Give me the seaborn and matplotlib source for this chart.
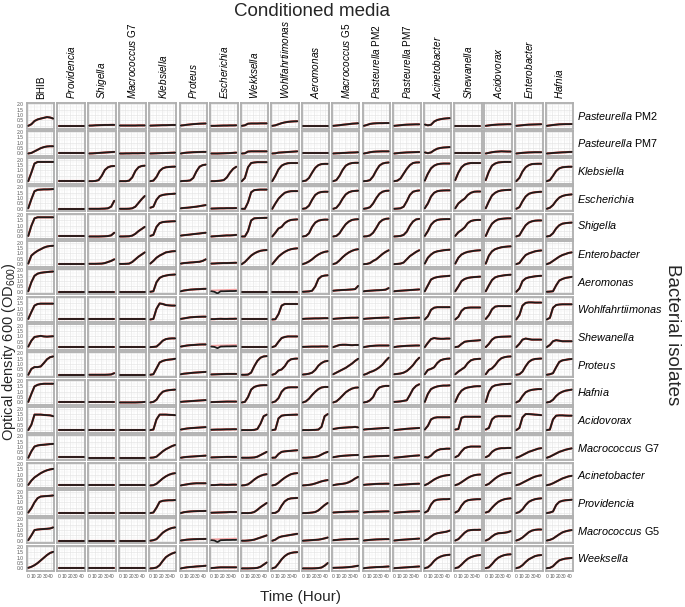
import numpy as np
import pandas as pd
import matplotlib
matplotlib.use("Agg")
import matplotlib.pyplot as plt
import seaborn as sns

# ---------------- data ----------------
time_h = [0, 5.5, 11, 16.5, 22, 27.5, 33, 38.5, 44]

media_genus = ["BHIB", "Providencia", "Shigella", "Macrococcus", "Klebsiella", "Proteus",
               "Escherichia", "Wekksella", "Wohlfahrtiimonas", "Aeromonas", "Macrococcus",
               "Pasteurella", "Pasteurella", "Acinetobacter", "Shewanella", "Acidovorax",
               "Enterobacter", "Hafnia"]
media_suffix = ["", "", "", "G7", "", "", "", "", "", "", "G5", "PM2", "PM7", "", "", "", "", ""]

isolate_genus = ["Pasteurella", "Pasteurella", "Klebsiella", "Escherichia", "Shigella",
                 "Enterobacter", "Aeromonas", "Wohlfahrtiimonas", "Shewanella", "Proteus",
                 "Hafnia", "Acidovorax", "Macrococcus", "Acinetobacter", "Providencia",
                 "Macrococcus", "Weeksella"]
isolate_suffix = ["PM2", "PM7", "", "", "", "", "", "", "", "", "", "", "G7", "", "", "G5", ""]

Z = [0, 0, 0, 0, 0, 0, 0, 0, 0]

pasteurella_pm2 = [
    [0.0, 0.15, 0.45, 0.6, 0.68, 0.75, 0.82, 0.78, 0.68], Z,
    [0.02, 0.03, 0.05, 0.06, 0.07, 0.08, 0.08, 0.09, 0.09],
    [0.03, 0.03, 0.03, 0.03, 0.03, 0.03, 0.04, 0.04, 0.04],
    [0.02, 0.03, 0.04, 0.05, 0.06, 0.06, 0.07, 0.08, 0.08],
    [0.03, 0.06, 0.1, 0.13, 0.16, 0.18, 0.2, 0.21, 0.22],
    [0.0, 0.0, 0.01, 0.02, 0.03, 0.03, 0.04, 0.04, 0.05],
    [0.0, 0.05, 0.2, 0.22, 0.22, 0.22, 0.23, 0.23, 0.23],
    [0.0, 0.05, 0.15, 0.25, 0.32, 0.37, 0.4, 0.42, 0.43],
    [0.03, 0.03, 0.03, 0.03, 0.03, 0.03, 0.03, 0.03, 0.03],
    [0.0, 0.03, 0.06, 0.1, 0.13, 0.16, 0.2, 0.22, 0.24],
    [0.0, 0.08, 0.18, 0.22, 0.24, 0.25, 0.25, 0.26, 0.26],
    [0.0, 0.03, 0.06, 0.09, 0.11, 0.12, 0.13, 0.14, 0.14],
    [0.12, 0.05, 0.1, 0.4, 0.55, 0.62, 0.67, 0.7, 0.72], Z,
    [0.0, 0.04, 0.08, 0.1, 0.12, 0.13, 0.14, 0.15, 0.15],
    [0.0, 0.03, 0.06, 0.09, 0.11, 0.12, 0.13, 0.14, 0.15],
    [0.0, 0.04, 0.08, 0.11, 0.14, 0.15, 0.16, 0.16, 0.17],
]
pasteurella_pm7 = [
    [0.0, 0.05, 0.2, 0.35, 0.5, 0.6, 0.66, 0.68, 0.68], Z,
    [0.0, 0.01, 0.03, 0.05, 0.07, 0.09, 0.11, 0.13, 0.15],
    [0.0, 0.0, 0.01, 0.01, 0.02, 0.02, 0.02, 0.03, 0.03],
    [0.0, 0.01, 0.02, 0.03, 0.04, 0.05, 0.06, 0.07, 0.08],
    [0.0, 0.05, 0.08, 0.1, 0.12, 0.13, 0.14, 0.15, 0.15],
    [0.0, 0.0, 0.0, 0.01, 0.02, 0.03, 0.04, 0.06, 0.08],
    [0.0, 0.02, 0.18, 0.2, 0.2, 0.2, 0.2, 0.2, 0.2],
    [0.0, 0.02, 0.08, 0.1, 0.12, 0.14, 0.16, 0.18, 0.2],
    [0.02, 0.02, 0.02, 0.02, 0.02, 0.02, 0.02, 0.02, 0.02],
    [0.0, 0.02, 0.03, 0.05, 0.06, 0.08, 0.09, 0.1, 0.12],
    [0.0, 0.05, 0.12, 0.16, 0.18, 0.19, 0.2, 0.2, 0.2],
    [0.0, 0.03, 0.06, 0.08, 0.1, 0.11, 0.12, 0.13, 0.14],
    [0.1, 0.03, 0.1, 0.3, 0.45, 0.52, 0.56, 0.58, 0.6], Z,
    [0.0, 0.06, 0.12, 0.16, 0.18, 0.2, 0.19, 0.18, 0.18],
    [0.0, 0.03, 0.06, 0.08, 0.1, 0.11, 0.12, 0.12, 0.12],
    [0.0, 0.02, 0.05, 0.07, 0.09, 0.11, 0.12, 0.14, 0.15],
]
klebsiella = [
    [0.0, 0.8, 1.65, 1.8, 1.8, 1.8, 1.8, 1.8, 1.8], Z,
    [0.0, 0.0, 0.02, 0.1, 0.5, 1.05, 1.3, 1.4, 1.42],
    [0.0, 0.0, 0.0, 0.05, 0.35, 0.95, 1.3, 1.42, 1.45],
    [0.0, 0.05, 0.4, 0.95, 1.2, 1.3, 1.33, 1.35, 1.36],
    [0.0, 0.02, 0.03, 0.07, 0.3, 0.9, 1.35, 1.5, 1.55],
    [0.0, 0.0, 0.02, 0.05, 0.1, 0.35, 0.8, 1.15, 1.35],
    [0.0, 0.3, 1.3, 1.7, 1.75, 1.78, 1.78, 1.78, 1.78],
    [0.0, 0.5, 1.1, 1.45, 1.6, 1.68, 1.7, 1.7, 1.7],
    [0.0, 0.05, 0.3, 0.8, 1.25, 1.5, 1.6, 1.62, 1.62],
    [0.0, 0.1, 0.5, 1.05, 1.45, 1.62, 1.7, 1.72, 1.72],
    [0.0, 0.02, 0.1, 0.45, 1.0, 1.45, 1.65, 1.72, 1.75],
    [0.0, 0.05, 0.25, 0.7, 1.15, 1.5, 1.7, 1.75, 1.76],
    [0.05, 0.7, 1.2, 1.45, 1.58, 1.63, 1.65, 1.65, 1.65],
    [0.1, 0.8, 1.3, 1.55, 1.65, 1.7, 1.7, 1.7, 1.7],
    [0.1, 0.9, 1.45, 1.65, 1.75, 1.78, 1.8, 1.8, 1.8],
    [0.0, 0.3, 0.9, 1.3, 1.5, 1.6, 1.62, 1.63, 1.63],
    [0.0, 0.1, 0.5, 0.95, 1.2, 1.3, 1.33, 1.35, 1.35],
]
escherichia = [
    [0.05, 0.9, 1.65, 1.78, 1.8, 1.82, 1.82, 1.83, 1.85],
    [0.02, 0.02, 0.02, 0.02, 0.02, 0.02, 0.02, 0.02, 0.02],
    [0.0, 0.0, 0.0, 0.0, 0.01, 0.02, 0.05, 0.2, 0.75],
    [0.0, 0.0, 0.0, 0.01, 0.05, 0.2, 0.55, 0.9, 1.2],
    [0.1, 0.2, 0.85, 1.2, 1.3, 1.35, 1.38, 1.4, 1.42],
    [0.05, 0.08, 0.1, 0.13, 0.17, 0.2, 0.25, 0.3, 0.35],
    [0.02, 0.03, 0.04, 0.05, 0.05, 0.06, 0.06, 0.06, 0.07],
    [0.0, 0.0, 0.6, 1.55, 1.75, 1.78, 1.8, 1.8, 1.8],
    [0.0, 0.5, 0.95, 1.25, 1.5, 1.6, 1.65, 1.66, 1.66],
    [0.0, 0.05, 0.3, 0.85, 1.3, 1.5, 1.58, 1.6, 1.6],
    [0.0, 0.1, 0.45, 0.95, 1.35, 1.55, 1.65, 1.68, 1.7],
    [0.0, 0.05, 0.15, 0.5, 1.0, 1.4, 1.6, 1.68, 1.7],
    [0.0, 0.02, 0.05, 0.2, 0.7, 1.3, 1.6, 1.68, 1.72],
    [0.05, 0.5, 1.15, 1.5, 1.65, 1.7, 1.72, 1.73, 1.73],
    [0.05, 0.5, 0.75, 0.95, 1.3, 1.5, 1.6, 1.62, 1.62],
    [0.05, 0.7, 1.25, 1.5, 1.65, 1.72, 1.75, 1.77, 1.78],
    [0.0, 0.15, 0.7, 1.15, 1.4, 1.5, 1.55, 1.58, 1.6],
    [0.0, 0.1, 0.35, 0.75, 1.05, 1.2, 1.28, 1.32, 1.35],
]
shigella = [
    [0.05, 1.0, 1.7, 1.8, 1.8, 1.8, 1.8, 1.8, 1.8], Z,
    [0.0, 0.0, 0.0, 0.0, 0.01, 0.02, 0.04, 0.1, 0.35],
    [0.0, 0.0, 0.01, 0.02, 0.08, 0.25, 0.5, 0.7, 0.9],
    [0.05, 0.15, 0.9, 1.25, 1.35, 1.38, 1.4, 1.42, 1.43],
    [0.08, 0.12, 0.15, 0.18, 0.22, 0.25, 0.28, 0.32, 0.35],
    [0.0, 0.02, 0.04, 0.06, 0.08, 0.1, 0.1, 0.12, 0.15],
    [0.0, 0.0, 0.5, 1.5, 1.7, 1.72, 1.73, 1.74, 1.75],
    [0.0, 0.35, 0.75, 0.9, 1.25, 1.45, 1.55, 1.58, 1.6],
    [0.0, 0.05, 0.3, 0.9, 1.3, 1.48, 1.55, 1.58, 1.58],
    [0.0, 0.05, 0.3, 0.75, 1.15, 1.4, 1.55, 1.6, 1.62],
    [0.0, 0.02, 0.1, 0.35, 0.8, 1.3, 1.55, 1.65, 1.68],
    [0.0, 0.02, 0.05, 0.15, 0.45, 1.0, 1.4, 1.6, 1.65],
    [0.05, 0.5, 1.1, 1.4, 1.55, 1.6, 1.62, 1.63, 1.63],
    [0.05, 0.4, 0.6, 0.85, 1.25, 1.45, 1.52, 1.55, 1.55],
    [0.05, 0.7, 1.2, 1.45, 1.6, 1.65, 1.68, 1.7, 1.7],
    [0.0, 0.1, 0.6, 1.05, 1.3, 1.42, 1.48, 1.5, 1.5],
    [0.0, 0.05, 0.3, 0.75, 1.05, 1.2, 1.25, 1.28, 1.3],
]
enterobacter = [
    [0.05, 0.8, 1.05, 1.25, 1.4, 1.55, 1.65, 1.7, 1.72],
    [0.05, 0.05, 0.05, 0.05, 0.05, 0.05, 0.05, 0.05, 0.05],
    [0.03, 0.03, 0.03, 0.04, 0.05, 0.1, 0.2, 0.3, 0.45],
    [0.02, 0.02, 0.03, 0.05, 0.2, 0.45, 0.7, 0.9, 1.1],
    [0.05, 0.3, 0.6, 0.8, 0.95, 1.1, 1.15, 1.2, 1.22],
    [0.05, 0.1, 0.12, 0.15, 0.17, 0.2, 0.22, 0.3, 0.45],
    [0.05, 0.06, 0.08, 0.09, 0.1, 0.1, 0.11, 0.12, 0.13],
    [0.0, 0.2, 0.5, 0.8, 1.0, 1.15, 1.25, 1.3, 1.32],
    [0.0, 0.35, 0.7, 0.95, 1.15, 1.3, 1.4, 1.45, 1.48],
    [0.0, 0.1, 0.25, 0.45, 0.7, 0.9, 1.05, 1.15, 1.2],
    [0.0, 0.1, 0.35, 0.65, 0.9, 1.1, 1.25, 1.35, 1.4],
    [0.0, 0.02, 0.1, 0.3, 0.45, 0.7, 0.95, 1.15, 1.3],
    [0.0, 0.02, 0.05, 0.15, 0.45, 0.75, 0.95, 1.15, 1.3],
    [0.05, 0.6, 0.9, 1.1, 1.2, 1.25, 1.3, 1.33, 1.35],
    [0.05, 0.6, 0.9, 1.05, 1.15, 1.2, 1.25, 1.28, 1.3],
    [0.05, 0.8, 1.2, 1.4, 1.5, 1.58, 1.62, 1.65, 1.67],
    [0.0, 0.1, 0.5, 0.85, 1.0, 1.1, 1.2, 1.25, 1.28],
    [0.0, 0.1, 0.3, 0.5, 0.7, 0.85, 0.95, 1.05, 1.1],
]
aeromonas = [
    [0.05, 0.9, 1.5, 1.7, 1.78, 1.82, 1.85, 1.88, 1.9], Z, Z, Z,
    [0.0, 0.05, 0.9, 1.3, 1.45, 1.52, 1.58, 1.6, 1.62],
    [0.05, 0.12, 0.16, 0.2, 0.22, 0.24, 0.25, 0.27, 0.28],
    [0.05, 0.0, -0.15, 0.05, 0.05, 0.06, 0.07, 0.07, 0.08],
    Z, Z,
    [0.0, 0.02, 0.04, 0.1, 0.5, 1.2, 1.45, 1.52, 1.55],
    [0.1, 0.13, 0.15, 0.17, 0.18, 0.2, 0.22, 0.25, 0.55],
    [0.05, 0.08, 0.1, 0.12, 0.14, 0.15, 0.17, 0.2, 0.35],
    [0.05, 0.08, 0.1, 0.12, 0.14, 0.16, 0.18, 0.2, 0.22],
    [0.05, 0.6, 1.15, 1.3, 1.38, 1.42, 1.45, 1.47, 1.5],
    [0.05, 0.5, 1.0, 1.2, 1.3, 1.35, 1.38, 1.4, 1.42],
    [0.05, 0.6, 1.1, 1.35, 1.45, 1.5, 1.55, 1.58, 1.6],
    [0.0, 0.3, 1.0, 1.25, 1.35, 1.4, 1.45, 1.48, 1.5],
    [0.0, 0.02, 0.05, 0.6, 1.05, 1.2, 1.3, 1.35, 1.4],
]
wohlfahrtiimonas = [
    [0.05, 0.7, 1.3, 1.45, 1.48, 1.48, 1.48, 1.48, 1.48], Z, Z, Z,
    [0.0, 0.05, 1.0, 1.5, 1.45, 1.35, 1.32, 1.3, 1.3],
    [0.05, 0.1, 0.15, 0.2, 0.22, 0.24, 0.25, 0.26, 0.26],
    [0.03, 0.03, 0.05, 0.06, 0.05, 0.05, 0.06, 0.06, 0.07],
    [0.02, 0.02, 0.02, 0.02, 0.02, 0.02, 0.02, 0.02, 0.02],
    [0.0, 0.02, 0.5, 1.3, 1.45, 1.45, 1.45, 1.45, 1.45],
    [0.05, 0.07, 0.08, 0.09, 0.1, 0.1, 0.11, 0.12, 0.12],
    [0.05, 0.08, 0.1, 0.12, 0.14, 0.15, 0.16, 0.16, 0.17],
    [0.05, 0.08, 0.1, 0.12, 0.14, 0.15, 0.16, 0.17, 0.18],
    [0.02, 0.05, 0.08, 0.1, 0.12, 0.14, 0.15, 0.16, 0.17],
    [0.0, 0.3, 0.9, 1.1, 1.15, 1.15, 1.15, 1.15, 1.15],
    [0.0, 0.25, 0.8, 1.05, 1.1, 1.12, 1.12, 1.12, 1.12],
    [0.05, 0.4, 0.95, 1.2, 1.25, 1.25, 1.25, 1.25, 1.25],
    [0.0, 0.4, 1.3, 1.55, 1.6, 1.6, 1.58, 1.58, 1.58],
    [0.0, 0.15, 1.1, 1.35, 1.4, 1.42, 1.42, 1.42, 1.42],
]
shewanella = [
    [0.05, 0.6, 0.95, 1.0, 1.05, 1.0, 0.98, 1.0, 1.02], Z, Z, Z,
    [0.0, 0.02, 0.05, 0.3, 0.6, 0.75, 0.8, 0.82, 0.82],
    [0.05, 0.1, 0.15, 0.18, 0.2, 0.22, 0.24, 0.25, 0.25],
    [0.05, 0.02, -0.1, 0.05, 0.06, 0.07, 0.07, 0.08, 0.08],
    [0.03, 0.03, 0.03, 0.03, 0.03, 0.03, 0.03, 0.03, 0.03],
    [0.0, 0.1, 0.5, 0.85, 0.95, 1.0, 1.0, 1.0, 1.0],
    [0.02, 0.03, 0.04, 0.05, 0.05, 0.05, 0.06, 0.06, 0.06],
    [0.0, 0.1, 0.2, 0.22, 0.22, 0.2, 0.18, 0.2, 0.2],
    [0.0, 0.05, 0.1, 0.12, 0.14, 0.15, 0.15, 0.15, 0.15],
    [0.0, 0.05, 0.08, 0.1, 0.12, 0.13, 0.14, 0.15, 0.15],
    [0.0, 0.4, 0.75, 0.85, 0.8, 0.78, 0.78, 0.8, 0.8],
    [0.0, 0.05, 0.3, 0.5, 0.55, 0.58, 0.6, 0.62, 0.65],
    [0.0, 0.3, 0.7, 0.9, 0.95, 0.97, 0.98, 0.99, 1.0],
    [0.0, 0.3, 0.7, 0.8, 0.75, 0.7, 0.7, 0.7, 0.7],
    [0.0, 0.2, 0.55, 0.65, 0.6, 0.55, 0.55, 0.55, 0.55],
]
proteus = [
    [0.0, 0.55, 0.72, 0.72, 0.78, 1.1, 1.45, 1.65, 1.72], Z,
    [0.0, 0.0, 0.0, 0.0, 0.0, 0.0, 0.01, 0.03, 0.15], Z,
    [0.0, 0.05, 0.6, 1.15, 1.3, 1.38, 1.42, 1.45, 1.5],
    [0.05, 0.1, 0.13, 0.16, 0.19, 0.21, 0.23, 0.25, 0.27],
    [0.03, 0.04, 0.05, 0.06, 0.07, 0.08, 0.08, 0.08, 0.08],
    [0.0, 0.0, 0.02, 0.2, 0.8, 1.3, 1.6, 1.72, 1.75],
    [0.0, 0.1, 0.4, 0.5, 0.8, 1.25, 1.45, 1.5, 1.52],
    [0.02, 0.05, 0.1, 0.2, 0.45, 0.85, 1.1, 1.25, 1.3],
    [0.05, 0.2, 0.35, 0.5, 0.65, 0.85, 1.05, 1.3, 1.5],
    [0.0, 0.1, 0.25, 0.35, 0.5, 0.7, 0.95, 1.3, 1.6],
    [0.05, 0.08, 0.12, 0.2, 0.35, 0.6, 0.9, 1.3, 1.6],
    [0.05, 0.45, 0.55, 0.7, 1.1, 1.35, 1.45, 1.5, 1.52],
    [0.05, 0.3, 0.5, 0.7, 1.1, 1.35, 1.45, 1.48, 1.5],
    [0.05, 0.45, 0.6, 0.9, 1.3, 1.55, 1.65, 1.7, 1.72],
    [0.0, 0.05, 0.3, 0.8, 1.2, 1.4, 1.48, 1.5, 1.52],
    [0.0, 0.05, 0.15, 0.7, 1.2, 1.35, 1.4, 1.45, 1.48],
]
hafnia = [
    [0.05, 0.8, 1.5, 1.65, 1.72, 1.75, 1.75, 1.75, 1.75], Z, Z,
    [0.0, 0.0, 0.0, 0.0, 0.0, 0.0, 0.01, 0.02, 0.05],
    [0.0, 0.05, 0.25, 0.7, 1.0, 1.1, 1.15, 1.18, 1.2],
    [0.05, 0.08, 0.1, 0.12, 0.14, 0.16, 0.18, 0.2, 0.22],
    [0.03, 0.04, 0.05, 0.06, 0.07, 0.08, 0.08, 0.08, 0.08],
    [0.0, 0.05, 0.5, 1.2, 1.45, 1.55, 1.6, 1.62, 1.62],
    [0.0, 0.1, 0.4, 1.0, 1.3, 1.4, 1.42, 1.42, 1.42],
    [0.0, 0.1, 0.35, 0.7, 1.0, 1.25, 1.4, 1.45, 1.45],
    [0.0, 0.1, 0.35, 0.65, 0.95, 1.15, 1.3, 1.38, 1.4],
    [0.0, 0.05, 0.2, 0.5, 1.1, 1.4, 1.5, 1.55, 1.55],
    [0.05, 0.07, 0.1, 0.15, 0.2, 0.7, 1.25, 1.55, 1.7],
    [0.05, 0.8, 1.25, 1.4, 1.5, 1.55, 1.58, 1.58, 1.6],
    [0.05, 0.7, 1.1, 1.3, 1.4, 1.45, 1.5, 1.52, 1.52],
    [0.05, 1.0, 1.45, 1.6, 1.65, 1.7, 1.72, 1.73, 1.75],
    [0.0, 0.15, 0.6, 0.95, 1.1, 1.18, 1.22, 1.25, 1.25],
    [0.0, 0.05, 0.25, 0.6, 0.85, 1.0, 1.1, 1.15, 1.2],
]
acidovorax = [
    [0.0, 0.5, 1.45, 1.45, 1.45, 1.42, 1.4, 1.38, 1.3], Z, Z, Z,
    [0.0, 0.05, 1.0, 1.45, 1.45, 1.45, 1.43, 1.42, 1.4],
    [0.05, 0.1, 0.15, 0.18, 0.2, 0.22, 0.24, 0.26, 0.28],
    [0.03, 0.04, 0.05, 0.05, 0.06, 0.07, 0.07, 0.08, 0.08],
    [0.0, 0.0, 0.0, 0.0, 0.02, 0.1, 0.6, 1.3, 1.45],
    [0.0, 0.05, 1.1, 1.35, 1.4, 1.42, 1.43, 1.44, 1.45],
    [0.0, 0.0, 0.0, 0.01, 0.02, 0.05, 0.3, 1.3, 1.5],
    [0.1, 0.15, 0.2, 0.22, 0.24, 0.26, 0.27, 0.3, 0.25],
    [0.05, 0.08, 0.1, 0.12, 0.14, 0.16, 0.18, 0.2, 0.2],
    [0.0, 0.03, 0.06, 0.09, 0.12, 0.14, 0.16, 0.18, 0.2],
    [0.05, 0.4, 1.0, 1.15, 1.2, 1.2, 1.2, 1.2, 1.2],
    [0.05, 0.1, 1.15, 1.25, 1.25, 1.25, 1.25, 1.25, 1.25],
    [0.05, 0.2, 1.0, 1.25, 1.3, 1.3, 1.3, 1.3, 1.3],
    [0.0, 0.2, 1.2, 1.5, 1.5, 1.48, 1.45, 1.43, 1.4],
    [0.0, 0.05, 1.0, 1.35, 1.38, 1.38, 1.36, 1.35, 1.35],
]
macrococcus_g7 = [
    [0.0, 0.6, 1.05, 1.15, 1.2, 1.22, 1.25, 1.28, 1.3],
    [0.03, 0.03, 0.03, 0.03, 0.03, 0.03, 0.03, 0.03, 0.03],
    [0.02, 0.02, 0.02, 0.02, 0.02, 0.02, 0.02, 0.02, 0.02],
    [0.02, 0.02, 0.02, 0.02, 0.02, 0.02, 0.02, 0.02, 0.02],
    [0.0, 0.02, 0.1, 0.35, 0.6, 0.8, 0.95, 1.1, 1.2],
    [0.0, 0.05, 0.08, 0.1, 0.12, 0.14, 0.16, 0.18, 0.2],
    [0.03, 0.04, 0.05, 0.06, 0.07, 0.08, 0.08, 0.08, 0.08],
    [0.0, 0.0, 0.0, 0.01, 0.03, 0.1, 0.25, 0.4, 0.55],
    [0.0, 0.02, 0.35, 0.55, 0.6, 0.63, 0.65, 0.68, 0.7],
    [0.0, 0.0, 0.02, 0.04, 0.08, 0.15, 0.3, 0.45, 0.55],
    [0.05, 0.1, 0.15, 0.18, 0.2, 0.22, 0.24, 0.25, 0.26],
    [0.05, 0.08, 0.1, 0.12, 0.14, 0.15, 0.16, 0.17, 0.18],
    [0.0, 0.03, 0.06, 0.09, 0.12, 0.15, 0.18, 0.2, 0.22],
    [0.05, 0.02, 0.2, 0.5, 0.7, 0.8, 0.82, 0.85, 0.85],
    [0.05, 0.2, 0.6, 0.9, 1.0, 1.05, 1.05, 1.05, 1.05],
    [0.05, 0.2, 0.55, 0.75, 0.85, 0.9, 0.9, 0.92, 0.92],
    [0.0, 0.1, 0.25, 0.4, 0.55, 0.65, 0.75, 0.85, 0.9],
    [0.0, 0.1, 0.25, 0.4, 0.55, 0.65, 0.75, 0.82, 0.88],
]
acinetobacter = [
    [0.05, 0.45, 0.75, 0.95, 1.15, 1.3, 1.42, 1.5, 1.55], Z, Z, Z,
    [0.0, 0.02, 0.15, 0.4, 0.65, 0.85, 1.0, 1.1, 1.15],
    [0.0, 0.05, 0.1, 0.15, 0.18, 0.2, 0.2, 0.2, 0.2],
    [0.03, 0.03, 0.05, 0.07, 0.06, 0.05, 0.06, 0.07, 0.07],
    [0.0, 0.02, 0.1, 0.3, 0.55, 0.75, 0.9, 1.0, 1.05],
    [0.0, 0.05, 0.25, 0.5, 0.72, 0.9, 1.05, 1.12, 1.15],
    [0.0, 0.02, 0.05, 0.1, 0.18, 0.28, 0.38, 0.45, 0.5],
    [0.02, 0.08, 0.12, 0.15, 0.2, 0.3, 0.45, 0.65, 0.8],
    [0.05, 0.08, 0.1, 0.12, 0.14, 0.15, 0.15, 0.16, 0.16],
    [0.02, 0.04, 0.06, 0.08, 0.1, 0.12, 0.14, 0.15, 0.16],
    [0.02, 0.15, 0.35, 0.55, 0.7, 0.82, 0.9, 0.95, 0.98],
    [0.02, 0.12, 0.3, 0.5, 0.7, 0.85, 0.95, 1.0, 1.02],
    [0.02, 0.15, 0.4, 0.65, 0.85, 1.0, 1.1, 1.15, 1.18],
    [0.02, 0.1, 0.25, 0.4, 0.55, 0.7, 0.82, 0.9, 0.95],
    [0.02, 0.08, 0.2, 0.35, 0.5, 0.65, 0.75, 0.85, 0.9],
]
providencia = [
    [0.05, 0.45, 1.0, 1.4, 1.55, 1.58, 1.6, 1.62, 1.65], Z, Z, Z,
    [0.0, 0.05, 0.5, 1.05, 1.15, 1.18, 1.2, 1.2, 1.22],
    [0.0, 0.08, 0.12, 0.15, 0.17, 0.18, 0.19, 0.19, 0.2],
    [0.03, 0.04, 0.05, 0.06, 0.07, 0.08, 0.1, 0.1, 0.1],
    [0.0, 0.0, 0.0, 0.02, 0.1, 0.3, 0.55, 0.75, 0.95],
    [0.0, 0.02, 0.2, 0.7, 1.1, 1.3, 1.38, 1.4, 1.42],
    [0.0, 0.0, 0.02, 0.05, 0.1, 0.25, 0.5, 0.75, 0.95],
    [0.05, 0.07, 0.09, 0.1, 0.12, 0.13, 0.14, 0.15, 0.16],
    [0.05, 0.08, 0.1, 0.12, 0.13, 0.14, 0.15, 0.16, 0.16],
    [0.02, 0.05, 0.08, 0.1, 0.12, 0.14, 0.15, 0.16, 0.17],
    [0.05, 0.2, 0.8, 1.15, 1.25, 1.28, 1.3, 1.3, 1.32],
    [0.05, 0.2, 0.7, 1.05, 1.2, 1.25, 1.28, 1.3, 1.3],
    [0.05, 0.15, 0.5, 0.8, 1.05, 1.2, 1.3, 1.35, 1.38],
    [0.0, 0.1, 0.35, 0.75, 1.05, 1.2, 1.3, 1.35, 1.38],
    [0.0, 0.05, 0.15, 0.75, 1.05, 1.15, 1.2, 1.22, 1.25],
]
macrococcus_g5 = [
    [0.05, 0.5, 1.0, 1.05, 1.08, 1.1, 1.12, 1.15, 1.25], Z, Z, Z,
    [0.0, 0.05, 0.15, 0.45, 0.75, 0.95, 1.1, 1.2, 1.25],
    [0.02, 0.06, 0.1, 0.12, 0.14, 0.15, 0.16, 0.16, 0.17],
    [0.05, 0.02, -0.12, 0.05, 0.06, 0.07, 0.07, 0.08, 0.08],
    [0.0, 0.0, 0.02, 0.05, 0.1, 0.2, 0.3, 0.4, 0.5],
    [0.0, 0.1, 0.3, 0.4, 0.45, 0.5, 0.55, 0.6, 0.65],
    [0.0, 0.02, 0.04, 0.06, 0.08, 0.1, 0.15, 0.22, 0.3],
    [0.05, 0.07, 0.1, 0.12, 0.14, 0.15, 0.16, 0.17, 0.18],
    [0.02, 0.05, 0.08, 0.1, 0.12, 0.13, 0.14, 0.15, 0.15],
    [0.02, 0.05, 0.08, 0.1, 0.12, 0.14, 0.16, 0.18, 0.2],
    [0.02, 0.15, 0.4, 0.6, 0.7, 0.75, 0.8, 0.85, 0.95],
    [0.02, 0.15, 0.45, 0.75, 0.95, 1.0, 1.02, 1.02, 1.03],
    [0.02, 0.15, 0.4, 0.6, 0.7, 0.72, 0.75, 0.8, 0.9],
    [0.02, 0.12, 0.3, 0.55, 0.8, 0.95, 1.02, 1.05, 1.05],
    [0.02, 0.08, 0.2, 0.4, 0.6, 0.78, 0.88, 0.95, 1.0],
]
weeksella = [
    [0.05, 0.15, 0.3, 0.5, 0.75, 1.0, 1.25, 1.45, 1.55], Z, Z,
    [0.02, 0.02, 0.02, 0.02, 0.02, 0.02, 0.02, 0.02, 0.02],
    [0.0, 0.02, 0.08, 0.3, 0.7, 1.05, 1.25, 1.4, 1.5],
    [0.0, 0.05, 0.1, 0.13, 0.15, 0.18, 0.2, 0.22, 0.25],
    [0.03, 0.05, 0.08, 0.1, 0.1, 0.1, 0.1, 0.1, 0.1],
    [0.0, 0.0, 0.0, 0.01, 0.02, 0.05, 0.15, 0.35, 0.55],
    [0.0, 0.1, 0.45, 0.85, 1.15, 1.35, 1.45, 1.5, 1.52],
    [0.0, 0.0, 0.0, 0.0, 0.01, 0.03, 0.08, 0.25, 0.5],
    [0.05, 0.06, 0.07, 0.08, 0.1, 0.12, 0.15, 0.2, 0.25],
    [0.02, 0.05, 0.08, 0.1, 0.12, 0.13, 0.14, 0.16, 0.18],
    [0.02, 0.04, 0.06, 0.08, 0.1, 0.12, 0.14, 0.16, 0.18],
    [0.02, 0.1, 0.35, 0.7, 0.95, 1.1, 1.2, 1.25, 1.28],
    [0.02, 0.1, 0.35, 0.65, 0.9, 1.05, 1.15, 1.22, 1.25],
    [0.02, 0.1, 0.4, 0.75, 1.0, 1.15, 1.25, 1.3, 1.32],
    [0.02, 0.1, 0.3, 0.6, 0.85, 1.0, 1.15, 1.22, 1.25],
    [0.02, 0.05, 0.2, 0.5, 0.75, 0.85, 0.92, 0.95, 0.98],
]

isolate_rows = [pasteurella_pm2, pasteurella_pm7, klebsiella, escherichia, shigella,
                enterobacter, aeromonas, wohlfahrtiimonas, shewanella, proteus, hafnia,
                acidovorax, macrococcus_g7, acinetobacter, providencia, macrococcus_g5,
                weeksella]

# fitted (red) curves that deviate from the raw points (Escherichia-conditioned medium)
escherichia_medium_fit = {
    6: [0.12, 0.13, 0.14, 0.15, 0.16, 0.17, 0.18, 0.19, 0.2],
    8: [0.12, 0.13, 0.14, 0.15, 0.16, 0.17, 0.18, 0.19, 0.2],
    15: [0.12, 0.13, 0.14, 0.15, 0.16, 0.17, 0.18, 0.19, 0.2],
}

x_ticks = [0, 10, 20, 30, 40]
y_ticks = [0.0, 0.5, 1.0, 1.5, 2.0]

# ---------------- long table ----------------
records = []
for r, rowdata in enumerate(isolate_rows):
    for c, vals in enumerate(rowdata):
        fit = escherichia_medium_fit.get(r) if c == 6 else None
        for k, (t, v) in enumerate(zip(time_h, vals)):
            records.append({"row": r, "col": c, "time": t, "od": v,
                            "fit": fit[k] if fit is not None else v,
                            "special": fit is not None})
df = pd.DataFrame(records)

# ---------------- style ----------------
sns.set_theme(style="white")
plt.rcParams["font.family"] = ["Liberation Sans", "DejaVu Sans"]
plt.rcParams["mathtext.fontset"] = "custom"
plt.rcParams["mathtext.it"] = "Liberation Sans:italic"
plt.rcParams["mathtext.rm"] = "Liberation Sans"
plt.rcParams["mathtext.default"] = "regular"

W, H = 685, 607
fig = plt.figure(figsize=(W / 100, H / 100), dpi=100)

x0, pw, px = 27.0, 27.5, 30.5
y0, ph, py = 103.0, 25.5, 27.66


def label(genus, suffix):
    if genus == "BHIB":
        return "BHIB"
    s = r"$\it{" + genus + "}$"
    if suffix:
        s += " " + suffix
    return s


nrow, ncol = len(isolate_rows), len(media_genus)
for r in range(nrow):
    for c in range(ncol):
        left = x0 + c * px
        top = y0 + r * py
        ax = fig.add_axes([left / W, 1 - (top + ph) / H, pw / W, ph / H])
        sub = df[(df.row == r) & (df.col == c)]
        special = bool(sub.special.iloc[0])
        ax.set_facecolor("white")
        ax.set_xlim(-2.2, 46.2)
        ax.set_ylim(-0.25, 2.14)
        ax.set_xticks(x_ticks)
        ax.set_yticks(y_ticks)
        ax.set_xticks([5, 15, 25, 35, 45], minor=True)
        ax.set_yticks([-0.25, 0.25, 0.75, 1.25, 1.75], minor=True)
        ax.grid(True, which="major", color="#e4e4e4", lw=0.45)
        ax.grid(True, which="minor", color="#efefef", lw=0.3)
        ax.set_axisbelow(True)
        if special:
            sns.lineplot(data=sub, x="time", y="fit", ax=ax, color="#f4a3a3", lw=1.3,
                         legend=False, errorbar=None, zorder=2)
        else:
            sns.lineplot(data=sub, x="time", y="fit", ax=ax, color="#e0392f", lw=1.5,
                         legend=False, errorbar=None, zorder=2)
        sns.lineplot(data=sub, x="time", y="od", ax=ax, color="#1c1c1c", lw=1.3,
                     legend=False, errorbar=None, zorder=3)
        ax.set_xlabel("")
        ax.set_ylabel("")
        for sp in ax.spines.values():
            sp.set_color("#aeaeae")
            sp.set_linewidth(1.3)
        ax.tick_params(which="both", length=0, pad=1, labelsize=3.6, colors="#555555")
        ax.tick_params(which="major", length=1.2, width=0.4, color="#888888")
        if c == 0:
            ax.set_yticklabels([f"{v:.1f}" for v in y_ticks])
        else:
            ax.set_yticklabels([])
            ax.tick_params(axis="y", length=0)
        if r == nrow - 1:
            ax.set_xticklabels([str(v) for v in x_ticks])
        else:
            ax.set_xticklabels([])
            ax.tick_params(axis="x", length=0)
        if r == 0:
            ax.text(0.5, 1.15, label(media_genus[c], media_suffix[c]), transform=ax.transAxes,
                    rotation=90, ha="center", va="bottom", fontsize=7.2, color="black")
        if c == ncol - 1:
            ax.text(1.13, 0.5, label(isolate_genus[r], isolate_suffix[r]), transform=ax.transAxes,
                    ha="left", va="center", fontsize=7.8, color="black")

fig.text(312 / W, 1 - 12 / H, "Conditioned media", ha="center", va="center", fontsize=13.5)
fig.text(300 / W, 1 - 597 / H, "Time (Hour)", ha="center", va="center", fontsize=11)
fig.text(9 / W, 1 - 352 / H, r"Optical density 600 (OD$_{600}$)", ha="center", va="center",
         rotation=90, fontsize=10.5)
fig.text(672 / W, 1 - 335 / H, "Bacterial isolates", ha="center", va="center",
         rotation=-90, fontsize=13.5)

fig.savefig("out.png", dpi=100)
